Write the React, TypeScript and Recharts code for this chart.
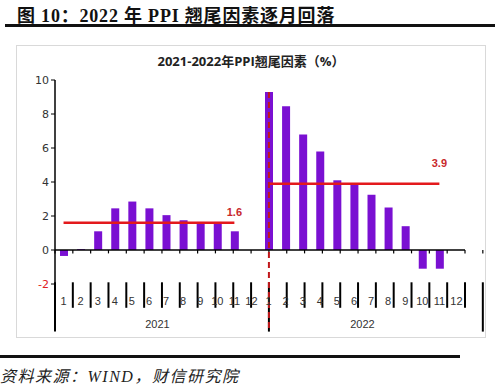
import {
  Bar,
  BarChart,
  LabelList,
  Line,
  ReferenceLine,
  XAxis,
  YAxis,
} from "recharts";

const months = ["1", "2", "3", "4", "5", "6", "7", "8", "9", "10", "11", "12"];
const years = ["2021", "2022"];

// PPI 翘尾因素 (%)
const carry2021 = [-0.35, 0.05, 1.1, 2.45, 2.85, 2.45, 2.05, 1.75, 1.65, 1.65, 1.1, null];
const carry2022 = [9.3, 8.45, 6.8, 5.8, 4.1, 3.85, 3.25, 2.5, 1.4, -1.1, -1.1, null];

// average of Jan-Nov, drawn as a flat line
const avg2021 = 1.6;
const avg2022 = 3.9;
const avgMonths = 11;

const yTicks = [-2, 0, 2, 4, 6, 8, 10];

const data = years.flatMap((year, yi) =>
  months.map((m, mi) => ({
    key: `${year}-${m}`,
    year,
    month: m,
    value: (yi === 0 ? carry2021 : carry2022)[mi],
    avgA: yi === 0 && mi < avgMonths ? avg2021 : null,
    avgB: yi === 1 && mi < avgMonths ? avg2022 : null,
  }))
);

const BAR = "#7A10D2";
const RED = "#E3191C";
const LABEL_RED = "#C8282B";
const boundaries = Array.from({ length: data.length + 1 }, (_, i) => i);

function YTick({ x, y, payload }: any) {
  return (
    <text
      x={x}
      y={y}
      dy={4}
      textAnchor="end"
      fontSize={11}
      fontFamily="'DejaVu Sans', sans-serif"
      fill={payload.value < 0 ? "#E02020" : "#333"}
    >
      {payload.value}
    </text>
  );
}

function MonthTick({ x, y, payload }: any) {
  return (
    <text
      x={x}
      y={y + 21}
      textAnchor="middle"
      fontSize={11}
      fontFamily="'Liberation Sans', sans-serif"
      fill="#333"
    >
      {String(payload.value).split("-")[1]}
    </text>
  );
}

function YearTick({ x, y, payload }: any) {
  return (
    <text
      x={x}
      y={y + 18}
      textAnchor="middle"
      fontSize={11}
      fontFamily="'Liberation Sans', sans-serif"
      fill="#333"
    >
      {payload.value}
    </text>
  );
}

const avgLabel = (last: number, rise: number) => (props: any) => {
  if (props.index !== last) return null;
  return (
    <text
      x={props.x}
      y={props.y - rise}
      textAnchor="middle"
      fontSize={11}
      fontWeight={600}
      fontFamily="'Liberation Sans', sans-serif"
      fill={LABEL_RED}
    >
      {props.value}
    </text>
  );
};

export default function App() {
  return (
    <div
      style={{
        position: "absolute",
        left: 0,
        top: 0,
        width: 500,
        height: 386,
        background: "#fff",
        overflow: "hidden",
      }}
    >
      <div
        style={{
          position: "absolute",
          left: 17,
          top: 1,
          fontSize: 18,
          letterSpacing: 0.8,
          fontWeight: "bold",
          fontFamily: "'Liberation Serif', 'Noto Sans CJK SC', serif",
          whiteSpace: "nowrap",
          color: "#111",
        }}
      >
        图 10：2022 年 PPI 翘尾因素逐月回落
      </div>
      <div style={{ position: "absolute", left: 5, top: 24, width: 490, height: 3, background: "#111" }} />

      <div
        style={{
          position: "absolute",
          left: 16,
          top: 45,
          width: 470,
          height: 293,
          border: "1px solid #d9d9d9",
          boxSizing: "border-box",
        }}
      />
      <div
        style={{
          position: "absolute",
          left: 16,
          top: 51,
          width: 470,
          textAlign: "center",
          fontSize: 13,
          fontWeight: "bold",
          fontFamily: "'Open Sans', 'Noto Sans CJK SC', sans-serif",
          color: "#222",
        }}
      >
        2021-2022年PPI翘尾因素（%）
      </div>
      <div style={{ position: "absolute", left: 16, top: 45 }}>
        <BarChart
          width={470}
          height={293}
          data={data}
          margin={{ top: 35, right: 21, left: 0, bottom: 4 }}
        >
          <XAxis
            xAxisId="num"
            orientation="top"
            type="number"
            domain={[0, data.length]}
            height={0}
            hide
            allowDataOverflow
          />
          <XAxis
            xAxisId="month"
            dataKey="key"
            height={26}
            interval={0}
            axisLine={false}
            tickLine={false}
            tickSize={0}
            tickMargin={0}
            tick={<MonthTick />}
          />
          <XAxis
            xAxisId="year"
            dataKey="year"
            allowDuplicatedCategory={false}
            height={24}
            axisLine={false}
            tickLine={false}
            tickSize={0}
            tickMargin={0}
            tick={<YearTick />}
          />
          <YAxis
            width={39}
            domain={[-2, 10]}
            ticks={yTicks}
            interval={0}
            axisLine={{ stroke: "#000", strokeWidth: 1.5 }}
            tickLine={{ stroke: "#000" }}
            tickSize={4}
            tick={<YTick />}
          />
          <Bar xAxisId="month" dataKey="value" fill={BAR} barSize={8} isAnimationActive={false} />
          <ReferenceLine xAxisId="num" y={0} stroke="#000" strokeWidth={1.5} />
          {boundaries.map((b) => (
            <ReferenceLine
              key={`t${b}`}
              xAxisId="num"
              ifOverflow="visible"
              segment={[{ x: b, y: 0 }, { x: b, y: -0.2 }]}
              stroke="#000"
              strokeWidth={1.2}
            />
          ))}
          {boundaries.map((b) => {
            const full = b === 0 || b === months.length || b === data.length;
            return (
              <ReferenceLine
                key={`s${b}`}
                xAxisId="num"
                ifOverflow="visible"
                segment={[
                  { x: b, y: -1.9 },
                  { x: b, y: full ? -4.8 : -3.4 },
                ]}
                stroke="#000"
                strokeWidth={2}
              />
            );
          })}
          <Line
            xAxisId="month"
            dataKey="avgA"
            stroke={RED}
            strokeWidth={2.5}
            dot={false}
            activeDot={false}
            isAnimationActive={false}
          >
            <LabelList dataKey="avgA" content={avgLabel(avgMonths - 1, 7)} />
          </Line>
          <Line
            xAxisId="month"
            dataKey="avgB"
            stroke={RED}
            strokeWidth={2.5}
            dot={false}
            activeDot={false}
            isAnimationActive={false}
          >
            <LabelList dataKey="avgB" content={avgLabel(months.length + avgMonths - 1, 17)} />
          </Line>
          <ReferenceLine
            xAxisId="num"
            ifOverflow="visible"
            segment={[
              { x: months.length, y: 9.3 },
              { x: months.length, y: -4.8 },
            ]}
            stroke="#C0171A"
            strokeWidth={2}
            strokeDasharray="6 4"
          />
        </BarChart>
      </div>

      <div style={{ position: "absolute", left: 0, top: 355, width: 460, height: 3, background: "#111" }} />
      <div
        style={{
          position: "absolute",
          left: 0,
          top: 363,
          fontSize: 16,
          letterSpacing: 1.5,
          fontStyle: "italic",
          fontFamily: "'Liberation Serif', 'Noto Sans CJK SC', serif",
          whiteSpace: "nowrap",
          color: "#222",
        }}
      >
        资料来源：WIND，财信研究院
      </div>
    </div>
  );
}
